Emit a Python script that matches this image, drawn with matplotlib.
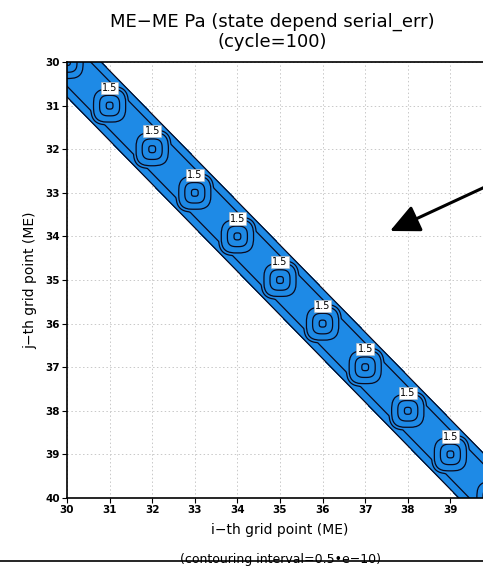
import numpy as np
import matplotlib

matplotlib.use("Agg")
import matplotlib.pyplot as plt
from matplotlib.lines import Line2D

# grid points on the diagonal that carry a local maximum
diag_points = list(range(30, 41))
label_points = list(range(31, 40))

# band profile across the diagonal (offset |i-j| -> value, x1e-10)
band_offsets = [0.0, 0.56, 0.8, 1.2]
band_values = [1.25, 1.0, 0.5, 0.0]

# peak profile around each diagonal grid point (radius -> value, x1e-10)
peak_radii = [0.0, 0.08, 0.235, 0.38, 0.56]
peak_values = [2.7, 2.5, 2.0, 1.5, 0.0]

levels = [0.5, 1.0, 1.5, 2.0, 2.5]
ticks = list(range(30, 41))
xtick_labels = [str(t) for t in range(30, 40)] + [""]
ytick_labels = [str(t) for t in ticks]

BLUE = "#1e8ae6"

# field on a fine grid, built from the profiles above
xs = np.linspace(29.5, 40.5, 700)
X, Y = np.meshgrid(xs, xs)
band = np.interp(np.abs(X - Y), band_offsets, band_values)
K = np.clip(np.round((X + Y) / 2), diag_points[0], diag_points[-1])
R = (np.abs(X - K) ** 3 + np.abs(Y - K) ** 3) ** (1 / 3)
peak = np.interp(R, peak_radii, peak_values)
F = np.maximum(band, peak)

fig = plt.figure(figsize=(4.83, 5.73), dpi=100)
ax = fig.add_axes([67 / 483, 75 / 573, 426 / 483, 436 / 573])

ax.contourf(X, Y, F, levels=[levels[0], 10], colors=[BLUE], zorder=1)
ax.contour(X, Y, F, levels=levels, colors="#0a0a1e", linewidths=0.9, zorder=2)

for k in label_points:
    ax.text(
        k, k - 0.41, "1.5", ha="center", va="center", fontsize=7, zorder=4,
        bbox=dict(boxstyle="square,pad=0.12", facecolor="white", edgecolor="#bbbbbb", linewidth=0.4),
    )

ax.set_xlim(30, 40)
ax.set_ylim(40, 30)
ax.set_xticks(ticks)
ax.set_xticklabels(xtick_labels)
ax.set_yticks(ticks)
ax.set_yticklabels(ytick_labels)
ax.tick_params(direction="out", length=3.5, width=0.8, labelsize=7.5, pad=1.5)
for lab in ax.get_xticklabels() + ax.get_yticklabels():
    lab.set_fontweight("bold")
ax.grid(True, color="#c8c8c8", linestyle=(0, (1.5, 2.5)), linewidth=0.7, zorder=0)
ax.set_axisbelow(True)
for s in ["left", "bottom", "top"]:
    ax.spines[s].set_linewidth(1.2)
    ax.spines[s].set_zorder(5)

ax.set_xlabel("i\u2212th grid point (ME)", fontsize=10, labelpad=6)
ax.set_ylabel("j\u2212th grid point (ME)", fontsize=10, labelpad=6)

fig.text(272 / 483, 1 - 22 / 573, "ME\u2212ME Pa (state depend serial_err)", ha="center", va="center", fontsize=13)
fig.text(272 / 483, 1 - 42 / 573, "(cycle=100)", ha="center", va="center", fontsize=13)

ax.annotate(
    "", xy=(390, 342), xycoords="figure pixels", xytext=(500, 393), textcoords="figure pixels",
    arrowprops=dict(arrowstyle="-|>,head_length=18,head_width=8.5", mutation_scale=1,
                    color="black", linewidth=2.2, shrinkA=0, shrinkB=0),
    annotation_clip=False,
)

fig.text(280 / 483, 1 - 559 / 573, "(contouring interval=0.5\u2022e\u221210)", ha="center", va="center", fontsize=9)
fig.add_artist(Line2D([0, 1], [1 - 561 / 573] * 2, transform=fig.transFigure, color="black", linewidth=1.2))

fig.savefig("out.png", dpi=100)
